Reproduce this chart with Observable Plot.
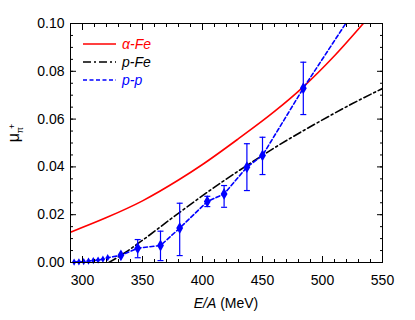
<!DOCTYPE html>
<html><head><meta charset="utf-8">
<script src="https://cdn.jsdelivr.net/npm/d3@7"></script>
<script src="https://cdn.jsdelivr.net/npm/@observablehq/plot@0.6"></script>
<style>body{margin:0;background:#fff;} #chart{position:relative;width:415px;height:320px;}</style>
</head><body><div id="chart"></div>
<script>
// ---- data ----
const xMajor = [300, 350, 400, 450, 500, 550];
const xMinor = [290, 300, 310, 320, 330, 340, 350, 360, 370, 380, 390, 400, 410, 420, 430, 440, 450, 460, 470, 480, 490, 500, 510, 520, 530, 540, 550];
const yMajor = [0, 0.02, 0.04, 0.06, 0.08, 0.10];
const yMinor = [0, 0.005, 0.01, 0.015, 0.02, 0.025, 0.03, 0.035, 0.04, 0.045, 0.05, 0.055, 0.06, 0.065, 0.07, 0.075, 0.08, 0.085, 0.09, 0.095, 0.10];

// alpha-Fe (red solid)
const aFeE = [290, 320, 350, 380, 400, 430, 460, 484, 510, 534];
const aFeMu = [0.0127, 0.0188, 0.0258, 0.0345, 0.0410, 0.0518, 0.0632, 0.0735, 0.0865, 0.1000];
// p-Fe (black dash-dot)
const pFeE = [322, 336, 350, 381, 416, 437, 460, 499, 525, 550];
const pFeMu = [0.0, 0.0043, 0.0093, 0.0210, 0.0336, 0.0406, 0.0480, 0.0594, 0.0665, 0.0728];
// p-p data near threshold (small markers)
const ppLowE = [293, 297, 301, 305, 309, 313, 317, 321];
const ppLowMu = [0.0002, 0.0003, 0.0004, 0.0006, 0.0008, 0.0010, 0.0014, 0.0020];
// p-p data with error bars
const ppE = [332, 346, 365, 381, 404, 418, 437, 450, 484];
const ppMu = [0.0030, 0.0060, 0.0071, 0.0144, 0.0255, 0.0287, 0.0399, 0.0448, 0.0729];
const ppLo = [0.0030, 0.0020, 0.0008, 0.0029, 0.0234, 0.0231, 0.0301, 0.0368, 0.0619];
const ppHi = [0.0030, 0.0096, 0.0131, 0.0248, 0.0277, 0.0322, 0.0497, 0.0524, 0.0838];
// p-p dashed line continues beyond last point
const ppTailE = [520];
const ppTailMu = [0.1005];

// ---- tables ----
const aFe = aFeE.map((x, i) => ({x, y: aFeMu[i]}));
const pFe = pFeE.map((x, i) => ({x, y: pFeMu[i]}));
const ppLow = ppLowE.map((x, i) => ({x, y: ppLowMu[i]}));
const pp = ppE.map((x, i) => ({x, y: ppMu[i], lo: ppLo[i], hi: ppHi[i]}));
const ppLine = [...ppLow, ...pp, ...ppTailE.map((x, i) => ({x, y: ppTailMu[i]}))];
const ppBars = pp.filter(d => d.hi > d.lo);

const RED = "#ff0000", BLUE = "#0000ff";
const capSymbol = {draw(ctx, size) { const r = Math.sqrt(size / Math.PI); ctx.moveTo(-r, 0); ctx.lineTo(r, 0); }};
const blank = () => "";

const chart = Plot.plot({
  width: 415, height: 320,
  marginLeft: 70, marginRight: 33, marginTop: 23, marginBottom: 58,
  style: {fontFamily: "'Liberation Sans', Arial, sans-serif", fontSize: "14px", color: "black", background: "white"},
  x: {domain: [290, 550]},
  y: {domain: [0, 0.1]},
  marks: [
    Plot.line(aFe, {x: "x", y: "y", stroke: RED, strokeWidth: 1.6, curve: "monotone-x", clip: true}),
    Plot.line(pFe, {x: "x", y: "y", stroke: "black", strokeWidth: 1.6, strokeDasharray: "8,3,2,3", curve: "monotone-x", clip: true}),
    Plot.line(ppLine, {x: "x", y: "y", stroke: BLUE, strokeWidth: 1.6, strokeDasharray: "4,2.5", clip: true}),
    Plot.ruleX(ppBars, {x: "x", y1: "lo", y2: "hi", stroke: BLUE, strokeWidth: 1.2}),
    Plot.dot(ppBars, {x: "x", y: "lo", symbol: capSymbol, r: 3, stroke: BLUE, strokeWidth: 1.2}),
    Plot.dot(ppBars, {x: "x", y: "hi", symbol: capSymbol, r: 3, stroke: BLUE, strokeWidth: 1.2}),
    Plot.dot(ppLow, {x: "x", y: "y", symbol: "diamond", r: 2.2, fill: BLUE, stroke: "none"}),
    Plot.dot(pp, {x: "x", y: "y", symbol: "diamond", r: 3.6, fill: BLUE, stroke: "none"}),
    Plot.frame({stroke: "black", strokeWidth: 1}),
    Plot.axisX(xMinor, {anchor: "bottom", tickSize: -3, tickFormat: blank, label: null}),
    Plot.axisX(xMajor, {anchor: "bottom", tickSize: -6, tickPadding: 19, label: null, fontSize: 14}),
    Plot.axisX(xMinor, {anchor: "top", tickSize: -3, tickFormat: blank, label: null}),
    Plot.axisX(xMajor, {anchor: "top", tickSize: -6, tickFormat: blank, label: null}),
    Plot.axisY(yMinor, {anchor: "left", tickSize: -3, tickFormat: blank, label: null}),
    Plot.axisY(yMajor, {anchor: "left", tickSize: -6, tickPadding: 12, tickFormat: d3.format(".2f"), label: null, fontSize: 14}),
    Plot.axisY(yMinor, {anchor: "right", tickSize: -3, tickFormat: blank, label: null}),
    Plot.axisY(yMajor, {anchor: "right", tickSize: -6, tickFormat: blank, label: null})
  ]
});
document.getElementById("chart").appendChild(chart);

// ---- labels and legend ----
const svg = d3.select(chart);
const font = "'Liberation Sans', Arial, sans-serif";
const xl = svg.append("text").attr("x", 226).attr("y", 308).attr("text-anchor", "middle")
  .attr("font-family", font).attr("font-size", 14).attr("fill", "black");
xl.append("tspan").attr("font-style", "italic").text("E/A");
xl.append("tspan").text(" (MeV)");

const yl = svg.append("text").attr("transform", "translate(19,133) rotate(-90)").attr("text-anchor", "middle")
  .attr("font-family", font).attr("font-size", 16).attr("fill", "black");
yl.append("tspan").text("μ");
yl.append("tspan").attr("font-size", 9).attr("dy", 4).text("π");
yl.append("tspan").attr("font-size", 9).attr("dy", -8).attr("dx", -2).text("+");

const legend = [
  {label: "α-Fe", color: RED, dash: null, y: 44},
  {label: "p-Fe", color: "black", dash: "8,3,2,3", y: 62},
  {label: "p-p", color: BLUE, dash: "4,2.5", y: 80}
];
for (const d of legend) {
  svg.append("line").attr("x1", 83).attr("x2", 116).attr("y1", d.y).attr("y2", d.y)
    .attr("stroke", d.color).attr("stroke-width", 1.6).attr("stroke-dasharray", d.dash);
  svg.append("text").attr("x", 122).attr("y", d.y + 5).attr("text-anchor", "start")
    .attr("font-family", font).attr("font-size", 14)
    .attr("font-style", "italic").attr("fill", d.color).text(d.label);
}
</script>
</body></html>
